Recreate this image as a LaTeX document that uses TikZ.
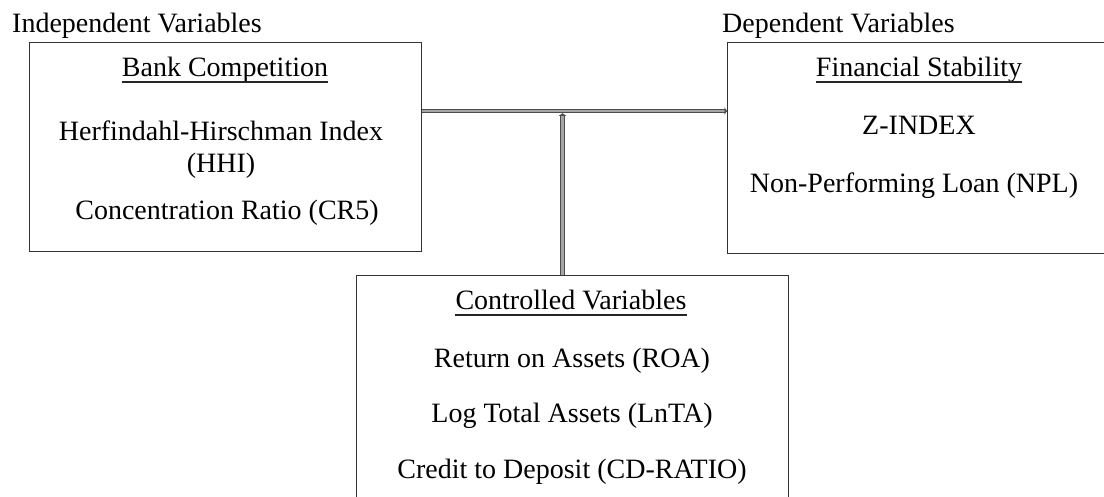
\documentclass[tikz,border=0pt]{standalone}
\usepackage{fontspec}
\setmainfont{Liberation Serif}
\usetikzlibrary{arrows.meta}
\begin{document}
\begin{tikzpicture}[x=1pt,y=-1pt,
  box/.style={draw=black!80, line width=1.3pt, inner sep=0pt},
  txt/.style={inner sep=0pt, anchor=base, font=\fontsize{28}{32}\selectfont},
  conn/.style={draw=black!70, double=black!35, double distance=2.6pt, line width=1pt},
  tipend/.style={-{Triangle[length=2.5pt,width=7.5pt]}},
  uline/.style={draw=black!85, line width=1.3pt}]
\useasboundingbox (0,0) rectangle (1104,497);
\clip (0,0) rectangle (1104,497);
% boxes
\node[box, minimum width=392pt, minimum height=209pt, anchor=north west] (L) at (29,42) {};
\node[box, minimum width=385pt, minimum height=211pt, anchor=north west] (R) at (727,42) {};
\node[box, minimum width=432pt, minimum height=235pt, anchor=north west] (B) at (356,275) {};
% headings
\node[txt, anchor=base west] (hl) at (12,33) {Independent Variables};
\node[txt, anchor=base west] (hr) at (722,33) {Dependent Variables};
% left box text
\node[txt] (lt) at (225,77) {Bank Competition};
\draw[uline] ([yshift=-5pt]lt.base west) -- ([yshift=-5pt]lt.base east);
\node[txt] (l1) at (221,141) {Herfindahl-Hirschman Index};
\node[txt] (l2) at (221,173) {(HHI)};
\node[txt] (l3) at (227,220) {Concentration Ratio (CR5)};
% right box text
\node[txt] (rt) at (919,77) {Financial Stability};
\draw[uline] ([yshift=-5pt]rt.base west) -- ([yshift=-5pt]rt.base east);
\node[txt] (r1) at (919,135) {Z-INDEX};
\node[txt] (r2) at (914,193) {Non-Performing Loan (NPL)};
% bottom box text
\node[txt] (bt) at (571,310) {Controlled Variables};
\draw[uline] ([yshift=-5pt]bt.base west) -- ([yshift=-5pt]bt.base east);
\node[txt] (b1) at (572,367) {Return on Assets (ROA)};
\node[txt] (b2) at (572,422) {Log Total Assets (LnTA)};
\node[txt] (b3) at (572,478) {Credit to Deposit (CD-RATIO)};
% connectors
\coordinate (hy) at (0,111);
\coordinate (vx) at (562.5,0);
\coordinate (vt) at (562.5,113.3);
\draw[conn, tipend] (L.east |- hy) -- (R.west |- hy);
\draw[conn, tipend] (B.north -| vx) -- (vt);
\end{tikzpicture}
\end{document}
